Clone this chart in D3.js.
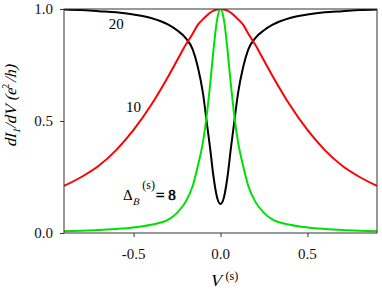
<!DOCTYPE html>
<html>
<head>
<meta charset="utf-8">
<script src="https://cdn.jsdelivr.net/npm/d3@7"></script>
<style>
  body { margin: 0; background: #fff; }
</style>
</head>
<body>
<div id="chart"></div>
<script>
var FONT = "Liberation Serif"

// sample voltages (V^(s))
var vs = [-0.9, -0.8, -0.7, -0.6, -0.5, -0.4, -0.3, -0.25, -0.2, -0.16, -0.13, -0.1, -0.08, -0.06, -0.04, -0.02, 0,
          0.02, 0.04, 0.06, 0.08, 0.1, 0.13, 0.16, 0.2, 0.25, 0.3, 0.4, 0.5, 0.6, 0.7, 0.8, 0.9]

// dI/dV for Delta_B = 20 (black)
var black20 = [0.998, 0.995, 0.99, 0.985, 0.975, 0.96, 0.93, 0.905, 0.87, 0.82, 0.74, 0.62, 0.5, 0.38, 0.25, 0.16, 0.13,
               0.16, 0.25, 0.38, 0.5, 0.62, 0.74, 0.82, 0.87, 0.905, 0.93, 0.96, 0.975, 0.985, 0.99, 0.995, 0.998]
// Delta_B = 10 (red)
var red10 = [0.21, 0.25, 0.3, 0.37, 0.46, 0.57, 0.7, 0.77, 0.84, 0.89, 0.93, 0.955, 0.97, 0.983, 0.993, 0.998, 1.0,
             0.998, 0.993, 0.983, 0.97, 0.955, 0.93, 0.89, 0.84, 0.77, 0.7, 0.57, 0.46, 0.37, 0.3, 0.25, 0.21]
// Delta_B = 8 (green)
var green8 = [0.008, 0.01, 0.013, 0.018, 0.025, 0.037, 0.06, 0.09, 0.14, 0.21, 0.3, 0.41, 0.52, 0.66, 0.82, 0.95, 1.0,
              0.95, 0.82, 0.66, 0.52, 0.41, 0.3, 0.21, 0.14, 0.09, 0.06, 0.037, 0.025, 0.018, 0.013, 0.01, 0.008]

var xTicks = [-0.5, 0.0, 0.5]
var yTicks = [0.0, 0.5, 1.0]
var xTickLabels = ["-0.5", "0.0", "0.5"]
var yTickLabels = ["0.0", "0.5", "1.0"]

var series = [
    { name: "20", values: black20, color: "#000000" },
    { name: "10", values: red10, color: "#ff0000" },
    { name: "8", values: green8, color: "#00e000" }
]

var margin = { top: 9, right: 5, bottom: 58, left: 64 },
    width = 382 - margin.left - margin.right,
    height = 291 - margin.top - margin.bottom;

var svg = d3.select("#chart")
    .append("svg")
    .attr("width", 382)
    .attr("height", 291)
    .append("g")
    .attr("transform", "translate(" + margin.left + "," + margin.top + ")");

var x = d3.scaleLinear().domain([-0.9, 0.9]).range([0, width])
var y = d3.scaleLinear().domain([0, 1]).range([height, 0])

svg.append("clipPath").attr("id", "clip")
    .append("rect").attr("width", width).attr("height", height)

var line = d3.line()
    .x(function (d) { return x(d[0]); })
    .y(function (d) { return y(d[1]); })
    .curve(d3.curveMonotoneX)

svg.append("g")
    .attr("clip-path", "url(#clip)")
    .selectAll("path")
    .data(series)
    .enter().append("path")
    .attr("d", function (s) { return line(vs.map(function (v, i) { return [v, s.values[i]]; })); })
    .attr("fill", "none")
    .attr("stroke", function (s) { return s.color; })
    .attr("stroke-width", 2)

// frame
svg.append("rect")
    .attr("width", width).attr("height", height)
    .attr("fill", "none").attr("stroke", "#333").attr("stroke-width", 1)

// tick marks only, labels drawn below
var xAxis = svg.append("g")
    .attr("transform", "translate(0," + height + ")")
    .call(d3.axisBottom(x).tickValues(xTicks).tickSize(4).tickSizeOuter(0))
var yAxis = svg.append("g")
    .call(d3.axisLeft(y).tickValues(yTicks).tickSize(4).tickSizeOuter(0))
;[xAxis, yAxis].forEach(function (a) {
    a.select(".domain").remove()
    a.selectAll("text").remove()
    a.selectAll("line").attr("stroke", "#333")
})

svg.selectAll(".xlab")
    .data(xTicks)
    .enter().append("text")
    .attr("class", "xlab")
    .attr("font-family", FONT)
    .attr("font-size", 15)
    .attr("fill", "#111")
    .attr("text-anchor", "middle")
    .attr("x", function (d) { return x(d); })
    .attr("y", height + 26)
    .text(function (d, i) { return xTickLabels[i]; })

svg.selectAll(".ylab")
    .data(yTicks)
    .enter().append("text")
    .attr("class", "ylab")
    .attr("font-family", FONT)
    .attr("font-size", 15)
    .attr("fill", "#111")
    .attr("text-anchor", "end")
    .attr("x", -11)
    .attr("y", function (d) { return y(d) + 5; })
    .text(function (d, i) { return yTickLabels[i]; })

// curve labels
svg.append("text").attr("x", x(-0.6)).attr("y", y(0.91)).attr("font-family", FONT)
    .attr("text-anchor", "middle").attr("font-size", 15).text("20")
svg.append("text").attr("x", x(-0.5)).attr("y", y(0.54)).attr("font-family", FONT)
    .attr("text-anchor", "middle").attr("font-size", 15).text("10")

// piece of text at (px,py); italic faked by skew, bold faked by stroke
function piece(parent, px, py, str, size, opt) {
    opt = opt || {}
    var t = parent.append("text")
        .attr("font-family", FONT)
        .attr("font-size", size)
        .attr("fill", "#000")
        .attr("transform", "translate(" + px + "," + py + ")" + (opt.italic ? " skewX(-14)" : ""))
        .text(str)
    if (opt.bold) t.attr("stroke", "#000").attr("stroke-width", 0.6)
    return t.node().getComputedTextLength()
}

// Delta_B^(s) = 8
var lx = x(-0.561), ly = y(0.147)
var w = piece(svg, lx, ly, "Δ", 15)
var wb = piece(svg, lx + w, ly + 5, "B", 10, { italic: true })
var ws = piece(svg, lx + w + wb + 3, ly - 11, "(s)", 12)
piece(svg, lx + w + wb + 3 + ws + 1, ly, "= 8", 15, { bold: true })

// x axis title
var vx = x(-0.065), vy = height + 53
var wv = piece(svg, vx, vy, "V", 17, { italic: true })
piece(svg, vx + wv + 4, vy - 6, "(s)", 12)

// y axis title, built along a rotated baseline then centred
var yg = svg.append("g")
    .attr("transform", "translate(" + (-48) + "," + (height / 2 - 15) + ") rotate(-90)")
var inner = yg.append("g")
var cx = 0
cx += piece(inner, cx, 0, "dI", 16, { italic: true })
cx += piece(inner, cx, 4, "1", 10, { italic: true })
cx += piece(inner, cx, 0, " /dV  (e", 16, { italic: true })
cx += piece(inner, cx, -7, "2", 10)
cx += piece(inner, cx + 1, 0, " /h)", 16, { italic: true }) + 1
inner.attr("transform", "translate(" + (-cx / 2) + ",0)")
</script>
</body>
</html>
